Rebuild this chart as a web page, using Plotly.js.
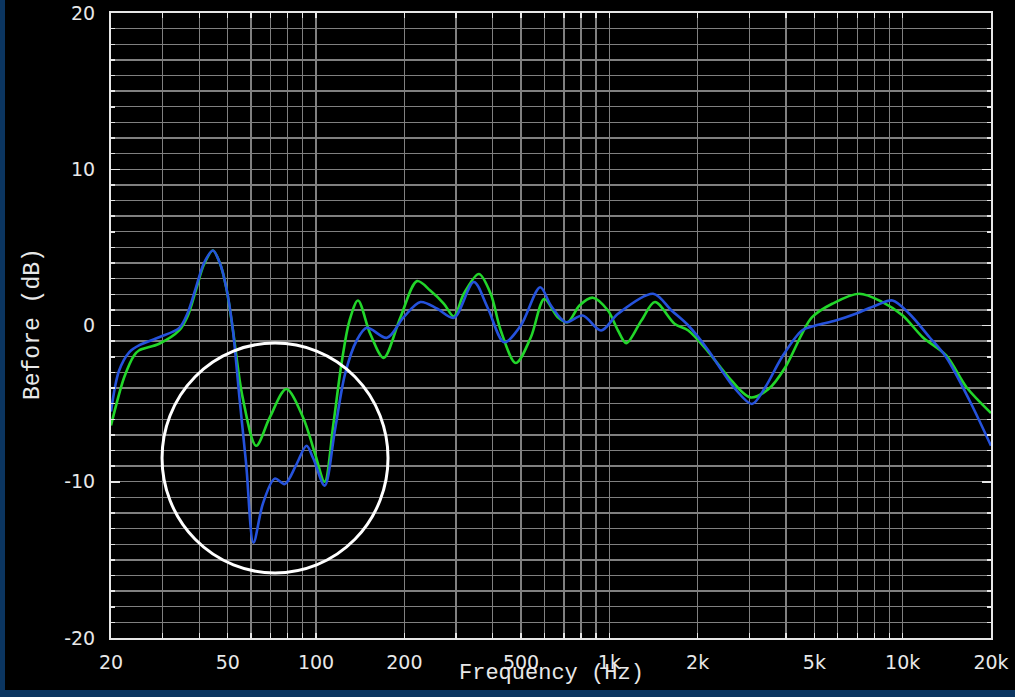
<!DOCTYPE html>
<html>
<head>
<meta charset="utf-8">
<script src="https://cdn.plot.ly/plotly-3.0.1.min.js"></script>
<style>
  html, body { margin: 0; padding: 0; background: #0b3560; width: 1015px; height: 697px; overflow: hidden; }
  #chart { position: absolute; left: 5px; top: 0; width: 1010px; height: 690px; background: #000; }
</style>
</head>
<body>
<div id="chart"></div>
<script>
// Blue series - frequency (Hz) and level (dB)
const blueFreq = [20, 21.3, 23.1, 25, 29.2, 34.2, 36.5, 39, 41.5, 44.5, 47, 49.4, 52, 54.8, 57.8, 61.2, 65.9, 72.3, 78.2, 85.7, 92.8, 97.8, 107, 116, 125.6, 137.6, 149, 174.5, 199, 227, 259, 295, 345, 384, 438, 499, 581, 632, 711, 811, 937, 1070, 1410, 1629, 1858, 2176, 2417, 2685, 3062, 3400, 3875, 4536, 5042, 5907, 6918, 8096, 9233, 10535, 12340, 14070, 16900, 20000];
const blueDb   = [-5.5, -2.9, -1.7, -1.25, -0.75, -0.15, 0.8, 2.45, 4.0, 4.8, 4.0, 2.45, -0.2, -4.6, -8.9, -13.9, -11.4, -9.8, -10.15, -8.9, -7.7, -8.5, -10.25, -6.7, -3.1, -0.96, -0.15, -0.79, 0.53, 1.5, 1.07, 0.49, 2.78, 1.17, -1.07, 0, 2.45, 1.28, 0.21, 0.64, -0.32, 0.75, 2.03, 0.96, 0, -1.6, -2.88, -4.06, -5.02, -3.95, -2.03, -0.32, 0, 0.32, 0.75, 1.28, 1.6, 0.75, -0.75, -2.03, -4.8, -7.7];

// Green series
const greenFreq = [20, 22.2, 24, 24.9, 29.2, 34.2, 36.5, 39, 41.5, 44.5, 47, 49.4, 52, 56.2, 62.5, 69.5, 79.2, 90.4, 99.2, 107, 114.6, 122, 130, 139, 153, 170, 194, 221, 245, 273, 295, 319, 359, 394, 426, 480, 540, 600, 667, 721, 791, 879, 989, 1070, 1142, 1286, 1430, 1672, 1858, 2176, 2547, 3020, 3490, 3980, 4536, 4910, 5750, 7100, 8530, 10000, 11700, 14070, 16500, 20000];
const greenDb   = [-6.4, -3.3, -1.9, -1.6, -1.17, -0.3, 0.6, 2.3, 3.9, 4.8, 4.0, 2.45, -0.2, -4.6, -7.7, -5.9, -4.06, -5.9, -8.2, -10.0, -6.3, -2.5, 0.3, 1.6, -0.53, -2.07, 0.53, 2.84, 2.24, 1.39, 0.58, 2.03, 3.3, 2.03, -0.3, -2.4, -0.75, 1.7, 0.53, 0.21, 1.28, 1.78, 0.96, -0.32, -1.13, 0.32, 1.5, 0.1, -0.32, -1.7, -3.3, -4.6, -4.06, -2.67, -0.53, 0.53, 1.39, 2.03, 1.5, 0.64, -0.75, -1.92, -3.95, -5.6];

// Axis ticks
const xTickVals  = [20, 50, 100, 200, 500, 1000, 2000, 5000, 10000, 20000];
const xTickText  = ["20", "50", "100", "200", "500", "1k", "2k", "5k", "10k", "20k"];
const xMinorVals = [30, 40, 60, 70, 80, 90, 300, 400, 600, 700, 800, 900, 3000, 4000, 6000, 7000, 8000, 9000];
const xDecadeVals = [100, 1000, 10000];
const yTickVals  = [-20, -10, 0, 10, 20];
const yTickText  = ["-20", "-10", "0", "10", "20"];

const gridCol = '#808080';
const axisCol = '#e6e6e6';
const tickFont = { family: 'DejaVu Sans, sans-serif', size: 19, color: '#e8e8e8' };

const traces = [
  { x: greenFreq, y: greenDb, type: 'scatter', mode: 'lines',
    line: { color: '#22d62a', width: 2.6, shape: 'spline', smoothing: 0.9 }, name: 'green', hoverinfo: 'skip' },
  { x: blueFreq, y: blueDb, type: 'scatter', mode: 'lines',
    line: { color: '#2552dc', width: 2.6, shape: 'spline', smoothing: 0.9 }, name: 'blue', hoverinfo: 'skip' }
];

const layout = {
  width: 1010, height: 690,
  margin: { l: 106, r: 24, t: 13, b: 52 },
  paper_bgcolor: '#000', plot_bgcolor: '#000',
  showlegend: false,
  xaxis: {
    type: 'log', range: [Math.log10(20), Math.log10(20000)],
    tickmode: 'array', tickvals: xTickVals, ticktext: xTickText,
    tickfont: tickFont, ticklabelstandoff: 6,
    ticks: 'inside', ticklen: 5, tickwidth: 1.5, tickcolor: axisCol,
    showgrid: true, gridcolor: gridCol, gridwidth: 1.3,
    minor: { tickmode: 'array', tickvals: xMinorVals, ticks: 'inside', ticklen: 5, tickcolor: axisCol,
             showgrid: true, gridcolor: gridCol, gridwidth: 1.3 },
    showline: true, linecolor: axisCol, linewidth: 2, mirror: 'ticks',
    zeroline: false, fixedrange: true
  },
  xaxis2: {
    type: 'log', range: [Math.log10(20), Math.log10(20000)], overlaying: 'x', anchor: 'y', side: 'bottom',
    tickmode: 'array', tickvals: xDecadeVals, showticklabels: false,
    ticks: 'inside', ticklen: 9, tickwidth: 2, tickcolor: axisCol,
    showgrid: true, gridcolor: '#a8a8a8', gridwidth: 1.6, showline: false, zeroline: false
  },
  yaxis: {
    range: [-20, 20],
    tickmode: 'array', tickvals: yTickVals, ticktext: yTickText,
    tickfont: tickFont, ticklabelstandoff: 10,
    ticks: 'inside', ticklen: 9, tickwidth: 1.5, tickcolor: axisCol,
    showgrid: true, gridcolor: gridCol, gridwidth: 1.3,
    minor: { dtick: 1, ticks: 'inside', ticklen: 4, tickcolor: axisCol, showgrid: true, gridcolor: gridCol, gridwidth: 1.3 },
    showline: true, linecolor: axisCol, linewidth: 2, mirror: 'ticks',
    zeroline: false, fixedrange: true
  },
  annotations: [
    { text: 'Frequency (Hz)', xref: 'paper', yref: 'paper', x: 0.5, y: -0.056,
      xanchor: 'center', yanchor: 'middle', showarrow: false,
      font: { family: 'Liberation Mono, monospace', size: 22, color: '#e8e8e8' } },
    { text: 'Before (dB)', xref: 'paper', yref: 'paper', x: -0.0886, y: 0.5024, textangle: -90,
      xanchor: 'center', yanchor: 'middle', showarrow: false,
      font: { family: 'Liberation Mono, monospace', size: 23, color: '#e8e8e8' } }
  ],
  shapes: [
    { type: 'circle', xref: 'paper', yref: 'paper', x0: 0.058, x1: 0.3148, y0: 0.104, y1: 0.472,
      line: { color: '#ffffff', width: 3 }, layer: 'above' }
  ]
};

Plotly.newPlot('chart', traces, layout, { staticPlot: true, displayModeBar: false });
</script>
</body>
</html>
